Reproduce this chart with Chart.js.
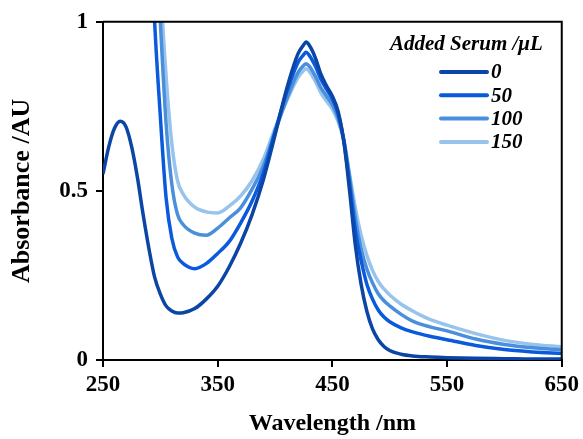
<!DOCTYPE html>
<html>
<head>
<meta charset="utf-8">
<script src="https://cdn.jsdelivr.net/npm/chart.js@4.4.1/dist/chart.umd.min.js"></script>
<style>
  html, body { margin: 0; padding: 0; background: #fff; }
  #wrap { width: 583px; height: 439px; }
</style>
</head>
<body>
<div id="wrap"><canvas id="absChart" width="583" height="439"></canvas></div>
<script>
// wavelengths (nm) shared by all spectra
const wavelengths = [250, 255, 260, 265, 270, 275, 280, 285, 290, 295, 300, 305, 310, 315, 320, 330, 340, 350, 360, 370, 380, 390, 400, 410, 420, 425, 427, 430, 435, 440, 445, 450, 455, 460, 465, 470, 475, 480, 485, 490, 495, 500, 510, 520, 535, 550, 575, 600, 625, 650];

// absorbance per added serum volume (values above 1 are off the top of the plot)
const serum0 = [0.55, 0.63, 0.685, 0.706, 0.69, 0.63, 0.54, 0.43, 0.33, 0.245, 0.195, 0.16, 0.145, 0.139, 0.14, 0.152, 0.18, 0.218, 0.275, 0.345, 0.43, 0.535, 0.665, 0.80, 0.905, 0.932, 0.94, 0.93, 0.895, 0.845, 0.81, 0.78, 0.735, 0.645, 0.50, 0.34, 0.225, 0.145, 0.092, 0.06, 0.04, 0.028, 0.017, 0.012, 0.009, 0.007, 0.005, 0.004, 0.003, 0.003];
const serum50 = [3.5, 3.4, 3.3, 3.15, 3.0, 2.7, 2.4, 1.9, 1.4, 1.0, 0.72, 0.48, 0.36, 0.305, 0.285, 0.27, 0.285, 0.315, 0.35, 0.405, 0.47, 0.555, 0.675, 0.79, 0.88, 0.903, 0.91, 0.90, 0.87, 0.83, 0.80, 0.772, 0.728, 0.648, 0.52, 0.385, 0.295, 0.225, 0.18, 0.148, 0.127, 0.113, 0.095, 0.083, 0.07, 0.06, 0.043, 0.031, 0.024, 0.019];
const serum100 = [3.5, 3.45, 3.4, 3.3, 3.2, 3.0, 2.7, 2.3, 1.8, 1.35, 1.0, 0.7, 0.52, 0.43, 0.40, 0.375, 0.369, 0.39, 0.42, 0.45, 0.505, 0.575, 0.675, 0.77, 0.85, 0.871, 0.876, 0.868, 0.84, 0.805, 0.78, 0.755, 0.715, 0.652, 0.54, 0.42, 0.33, 0.27, 0.228, 0.196, 0.175, 0.16, 0.135, 0.115, 0.098, 0.086, 0.062, 0.046, 0.036, 0.03];
const serum150 = [3.5, 3.5, 3.45, 3.4, 3.3, 3.15, 2.9, 2.5, 2.0, 1.5, 1.12, 0.84, 0.64, 0.53, 0.49, 0.452, 0.438, 0.435, 0.455, 0.485, 0.53, 0.595, 0.685, 0.765, 0.835, 0.856, 0.861, 0.853, 0.825, 0.79, 0.765, 0.742, 0.705, 0.648, 0.55, 0.45, 0.37, 0.31, 0.265, 0.232, 0.21, 0.192, 0.165, 0.145, 0.12, 0.103, 0.078, 0.058, 0.046, 0.039];

const seriesLabels = ["0", "50", "100", "150"];
const seriesColors = ["#0b45a5", "#0a5ade", "#4a8fdc", "#98c3ec"];
const xTicks = [250, 350, 450, 550, 650];
const yTicks = [0, 0.5, 1];

const serif = "'Liberation Serif', 'Times New Roman', serif";
const toPoints = (vals) => vals.map((v, i) => ({ x: wavelengths[i], y: v }));

// box around plot + legend drawn inside the plot area
const boxAndLegend = {
  id: "boxAndLegend",
  afterDraw(chart) {
    const { ctx, chartArea } = chart;
    ctx.save();
    ctx.strokeStyle = "#000";
    ctx.lineWidth = 2;
    ctx.beginPath();
    ctx.moveTo(chartArea.left, chartArea.top);
    ctx.lineTo(chartArea.right, chartArea.top);
    ctx.lineTo(chartArea.right, chartArea.bottom);
    ctx.stroke();

    ctx.fillStyle = "#000";
    ctx.textBaseline = "middle";
    ctx.font = "bold italic 21px " + serif;
    ctx.textAlign = "left";
    ctx.fillText("Added Serum /\u03bcL", 390, 45);

    chart.data.datasets.forEach((ds, i) => {
      const y = 72 + i * 23.3;
      ctx.strokeStyle = ds.borderColor;
      ctx.lineWidth = 4;
      ctx.lineCap = "round";
      ctx.beginPath();
      ctx.moveTo(441, y);
      ctx.lineTo(487, y);
      ctx.stroke();
      ctx.fillText(ds.label, 491, y + 1);
    });
    ctx.restore();
  }
};

const tickFont = { family: serif, size: 23, weight: "bold" };

new Chart(document.querySelector("#absChart").getContext("2d"), {
  type: "line",
  data: {
    datasets: [serum0, serum50, serum100, serum150].map((vals, i) => ({
      label: seriesLabels[i],
      data: toPoints(vals),
      borderColor: seriesColors[i],
      borderWidth: 3.5,
      pointRadius: 0,
      cubicInterpolationMode: "monotone",
      fill: false
    }))
  },
  options: {
    responsive: false,
    animation: false,
    layout: { padding: { top: 21, right: 20, left: 0, bottom: 0 } },
    plugins: { legend: { display: false }, tooltip: { enabled: false } },
    scales: {
      x: {
        type: "linear",
        min: 250,
        max: 650,
        afterFit: (s) => { s.height = 79; },
        afterBuildTicks: (s) => { s.ticks = xTicks.map((v) => ({ value: v })); },
        ticks: { font: tickFont, color: "#000", padding: 4, maxRotation: 0 },
        grid: { drawOnChartArea: false, drawTicks: true, tickLength: 7, color: "#000", lineWidth: 2 },
        border: { color: "#000", width: 2 },
        title: { display: true, text: "Wavelength /nm", font: { family: serif, size: 24, weight: "bold" }, color: "#000", padding: { top: 4, bottom: 1 } }
      },
      y: {
        min: 0,
        max: 1,
        afterFit: (s) => { s.width = 103; },
        afterBuildTicks: (s) => { s.ticks = yTicks.map((v) => ({ value: v })); },
        ticks: { font: tickFont, color: "#000", padding: 8, callback: (v) => String(v) },
        grid: { drawOnChartArea: false, drawTicks: true, tickLength: 7, color: "#000", lineWidth: 2 },
        border: { color: "#000", width: 2 },
        title: { display: true, text: "Absorbance /AU", font: { family: serif, size: 26, weight: "bold" }, color: "#000", padding: { top: 7, bottom: 4 } }
      }
    }
  },
  plugins: [boxAndLegend]
});
</script>
</body>
</html>
